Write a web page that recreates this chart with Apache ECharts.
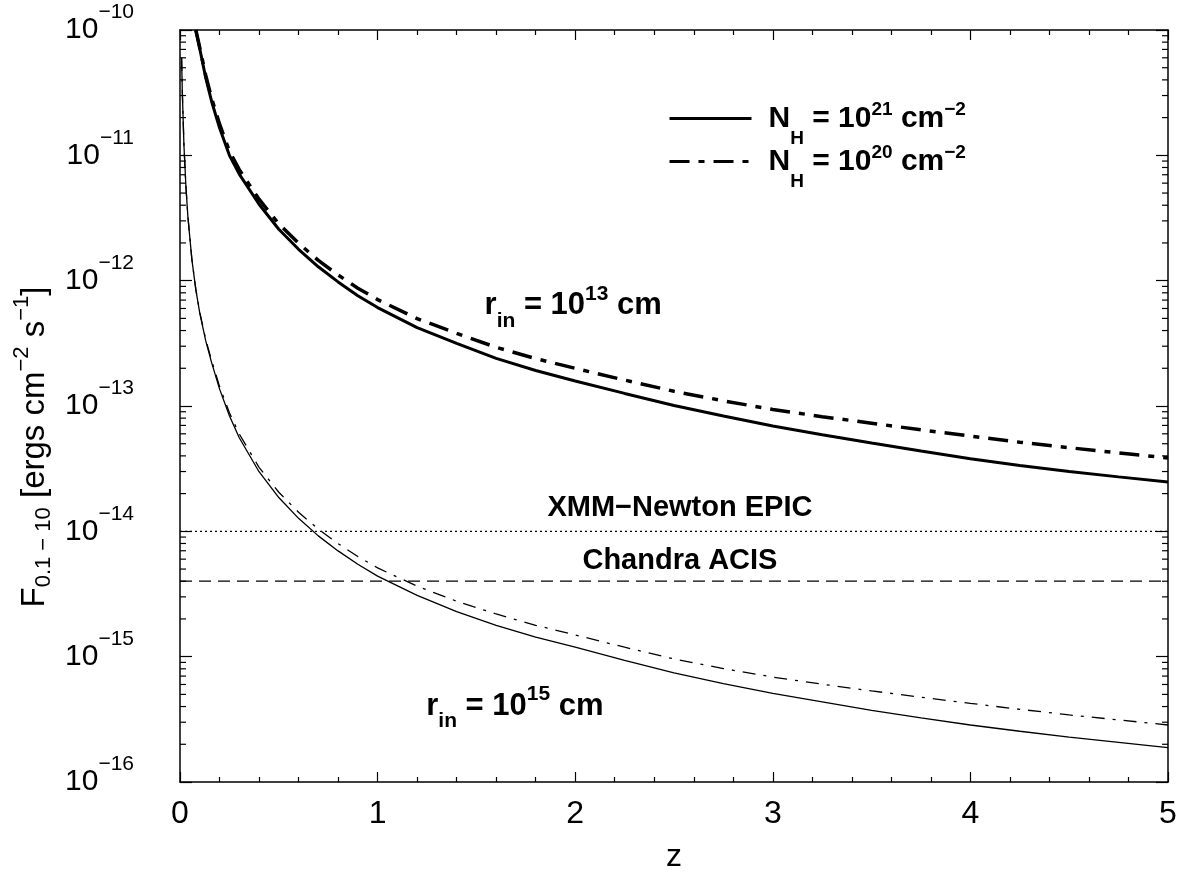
<!DOCTYPE html>
<html lang="en">
<head>
<meta charset="UTF-8">
<title>F(0.1-10 keV) vs z</title>
<script src="https://cdn.jsdelivr.net/npm/echarts@6.0.0/dist/echarts.min.js"></script>
<style>
    html, body { margin: 0; padding: 0; background: #ffffff; }
    #chart { width: 1181px; height: 876px; }
</style>
</head>
<body>
<div id="chart"></div>
<script>
    // ---- data ----
    // r_in = 10^15 cm curves (thin)
    const zLower = [0.008, 0.012, 0.02, 0.03, 0.04, 0.06, 0.08, 0.1, 0.13, 0.16,
        0.2, 0.25, 0.3, 0.4, 0.5, 0.6, 0.7, 0.8, 0.9, 1.0,
        1.2, 1.4, 1.6, 1.8, 2.0, 2.25, 2.5, 2.75, 3.0, 3.25, 3.5, 3.75, 4.0, 4.25, 4.5, 4.75, 5.0];
    const fluxLowNH21 = [6.0e-11, 3.10e-11, 1.20e-11, 5.62e-12, 3.23e-12, 1.48e-12, 8.47e-13, 5.51e-13, 3.32e-13, 2.22e-13,
        1.37e-13, 8.36e-14, 5.58e-14, 2.99e-14, 1.86e-14, 1.27e-14, 9.20e-15, 6.98e-15, 5.46e-15, 4.39e-15,
        3.08e-15, 2.29e-15, 1.78e-15, 1.43e-15, 1.19e-15, 9.33e-16, 7.41e-16, 6.10e-16, 5.09e-16, 4.35e-16,
        3.73e-16, 3.25e-16, 2.85e-16, 2.54e-16, 2.28e-16, 2.07e-16, 1.88e-16];
    const fluxLowNH20 = [6.0e-11, 3.10e-11, 1.20e-11, 5.65e-12, 3.25e-12, 1.49e-12, 8.57e-13, 5.61e-13, 3.41e-13, 2.31e-13,
        1.435e-13, 8.85e-14, 5.98e-14, 3.24e-14, 2.05e-14, 1.42e-14, 1.04e-14, 7.98e-15, 6.30e-15, 5.11e-15,
        3.65e-15, 2.77e-15, 2.19e-15, 1.78e-15, 1.49e-15, 1.19e-15, 9.59e-16, 8.04e-16, 6.87e-16, 6.03e-16,
        5.33e-16, 4.75e-16, 4.24e-16, 3.80e-16, 3.43e-16, 3.13e-16, 2.85e-16];

    // r_in = 10^13 cm curves (thick)
    const zUpper = [0.08, 0.1, 0.13, 0.16, 0.2, 0.25, 0.3, 0.4, 0.5, 0.6, 0.7, 0.8, 0.9, 1.0,
        1.2, 1.4, 1.6, 1.8, 2.0, 2.25, 2.5, 2.75, 3.0, 3.25, 3.5, 3.75, 4.0, 4.25, 4.5, 4.75, 5.0];
    const fluxUpNH21 = [1.0e-10, 7.08e-11, 4.17e-11, 2.69e-11, 1.66e-11, 1.0e-11, 7.08e-12, 4.07e-12, 2.57e-12, 1.78e-12,
        1.29e-12, 9.77e-13, 7.59e-13, 6.10e-13, 4.22e-13, 3.16e-13, 2.40e-13, 1.92e-13, 1.585e-13, 1.26e-13,
        1.01e-13, 8.32e-14, 6.92e-14, 5.89e-14, 5.07e-14, 4.37e-14, 3.80e-14, 3.35e-14, 3.0e-14, 2.72e-14, 2.48e-14];
    const fluxUpNH20 = [1.0e-10, 7.24e-11, 4.37e-11, 2.85e-11, 1.78e-11, 1.08e-11, 7.69e-12, 4.47e-12, 2.84e-12, 1.99e-12,
        1.45e-12, 1.11e-12, 8.71e-13, 7.06e-13, 4.98e-13, 3.80e-13, 2.94e-13, 2.39e-13, 2.0e-13, 1.61e-13,
        1.31e-13, 1.10e-13, 9.38e-14, 8.22e-14, 7.29e-14, 6.46e-14, 5.75e-14, 5.14e-14, 4.65e-14, 4.22e-14, 3.85e-14];

    // detector sensitivity limits
    const limitNames = ['XMM−Newton EPIC', 'Chandra ACIS'];
    const limitFlux = [1e-14, 4e-15];

    // text annotations (anchored in data units)
    const noteText = ['XMM−Newton EPIC', 'Chandra ACIS',
        '{b|r}{sub|in}{b| = 10}{sup|13}{b| cm}', '{b|r}{sub|in}{b| = 10}{sup|15}{b| cm}'];
    const noteZ = [2.53, 2.53, 1.99, 1.695];
    const noteF = [1.53e-14, 5.8e-15, 6.3e-13, 4.0e-16];

    const legendText = {
        'NH21': '{g|}{b|N}{sub|H}{b| = 10}{sup|21}{b| cm}{sup|−2}',
        'NH20': '{g|}{b|N}{sub|H}{b| = 10}{sup|20}{b| cm}{sup|−2}'
    };

    const xTicks = [0, 5, 1];         // min, max, interval
    const yDecades = [-16, -10];      // log10 range
    const minorMult = [2, 3, 4, 5, 6, 7, 8, 9];

    const FONT = '"Liberation Sans", Arial, Helvetica, sans-serif';

    function pairs(xs, ys) {
        return xs.map(function (x, i) { return [x, ys[i]]; });
    }

    // log minor ticks at 2..9 x 10^n (drawn on both vertical frame edges)
    let minorTickVals = [];
    for (let d = yDecades[0]; d < yDecades[1]; d++) {
        for (let m of minorMult) minorTickVals.push([xTicks[0], m * Math.pow(10, d)]);
    }

    const boldRich = function (size, small, sub, sup, gap) {
        return {
            b: {fontFamily: FONT, fontWeight: 'bold', fontSize: size, color: '#000', lineHeight: 30},
            sub: {fontFamily: FONT, fontWeight: 'bold', fontSize: small, color: '#000', lineHeight: 30, padding: [sub, 0, 0, 0]},
            sup: {fontFamily: FONT, fontWeight: 'bold', fontSize: small, color: '#000', lineHeight: 30, padding: [0, 0, sup, 0]},
            g: {width: gap, lineHeight: 30}
        };
    };

    const myChart = echarts.init(document.getElementById('chart'));

    const frameLine = {show: true, onZero: false, lineStyle: {color: '#000', width: 1.5}};
    const tickStyle = {color: '#000', width: 1.2};

    const option = {
        animation: false,
        backgroundColor: '#ffffff',
        grid: {left: 180, right: 13, top: 30, bottom: 94, containLabel: false, outerBoundsMode: 'none'},
        legend: {
            orient: 'vertical',
            left: 663,
            top: 84,
            itemWidth: 82,
            itemHeight: 14,
            itemGap: -16,
            selectedMode: false,
            data: ['NH21', 'NH20'],
            itemStyle: {opacity: 0},
            lineStyle: {width: 3},
            formatter: function (name) { return legendText[name]; },
            textStyle: {
                color: '#000', fontFamily: FONT, fontWeight: 'bold', fontSize: 29, lineHeight: 30,
                rich: boldRich(30, 19, 40, 18, 12)
            }
        },
        xAxis: [{
            type: 'value', position: 'bottom',
            min: xTicks[0], max: xTicks[1], interval: xTicks[2],
            axisLine: frameLine,
            axisTick: {show: true, inside: true, length: 10, lineStyle: tickStyle},
            minorTick: {show: true, splitNumber: 5, length: 5, lineStyle: tickStyle},
            splitLine: {show: false},
            axisLabel: {color: '#000', fontFamily: FONT, fontSize: 32, margin: 16},
            name: 'z', nameLocation: 'middle', nameGap: 59,
            nameTextStyle: {color: '#000', fontFamily: FONT, fontSize: 32}
        }, {
            type: 'value', position: 'top',
            min: xTicks[0], max: xTicks[1], interval: xTicks[2],
            axisLine: frameLine,
            axisTick: {show: true, inside: true, length: 10, lineStyle: tickStyle},
            minorTick: {show: true, splitNumber: 5, length: 5, lineStyle: tickStyle},
            splitLine: {show: false},
            axisLabel: {show: false}
        }],
        yAxis: [{
            type: 'log', logBase: 10, position: 'left',
            min: Math.pow(10, yDecades[0]), max: Math.pow(10, yDecades[1]),
            axisLine: frameLine,
            axisTick: {show: true, inside: true, length: 12, lineStyle: tickStyle},
            splitLine: {show: false},
            axisLabel: {
                margin: 46,
                formatter: function (v) {
                    const e = Math.round(Math.log10(v));
                    return '{b|10}{s|−' + (-e) + '}';
                },
                rich: {
                    b: {fontFamily: FONT, fontSize: 30, color: '#000', lineHeight: 30},
                    s: {fontFamily: FONT, fontSize: 21, color: '#000', lineHeight: 30, padding: [0, 0, 35, 0]}
                }
            }
        }, {
            type: 'log', logBase: 10, position: 'right',
            min: Math.pow(10, yDecades[0]), max: Math.pow(10, yDecades[1]),
            axisLine: frameLine,
            axisTick: {show: true, inside: true, length: 12, lineStyle: tickStyle},
            splitLine: {show: false},
            axisLabel: {show: false}
        }],
        series: [
            {
                name: 'NH21', type: 'line', symbol: 'none', data: pairs(zUpper, fluxUpNH21),
                lineStyle: {color: '#000', width: 3}, itemStyle: {color: '#000'}
            },
            {
                name: 'NH20', type: 'line', symbol: 'none', data: pairs(zUpper, fluxUpNH20),
                lineStyle: {color: '#000', width: 3.5, type: [20, 9, 6, 9]}, itemStyle: {color: '#000'}
            },
            {
                name: 'NH21', type: 'line', symbol: 'none', data: pairs(zLower, fluxLowNH21),
                lineStyle: {color: '#000', width: 1.3}, itemStyle: {color: '#000'}
            },
            {
                name: 'NH20', type: 'line', symbol: 'none', data: pairs(zLower, fluxLowNH20),
                lineStyle: {color: '#000', width: 1.3, type: [13, 8, 3, 8]}, itemStyle: {color: '#000'}
            },
            {
                name: limitNames[0], type: 'line', symbol: 'none',
                data: [[xTicks[0], limitFlux[0]], [xTicks[1], limitFlux[0]]],
                lineStyle: {color: '#000', width: 1.3, type: [2, 3]}
            },
            {
                name: limitNames[1], type: 'line', symbol: 'none',
                data: [[xTicks[0], limitFlux[1]], [xTicks[1], limitFlux[1]]],
                lineStyle: {color: '#000', width: 1.3, type: [12, 7]}
            },
            {
                name: 'notes', type: 'scatter', symbolSize: 0, silent: true,
                itemStyle: {opacity: 1, color: '#000'},
                data: noteZ.map(function (z, i) {
                    return {value: [z, noteF[i]], label: {formatter: noteText[i]}};
                }),
                label: {
                    show: true, position: 'inside', color: '#000', opacity: 1,
                    fontFamily: FONT, fontWeight: 'bold', fontSize: 29,
                    rich: boldRich(31, 21, 30, 24, 0)
                }
            },
            {
                name: 'minorTicks', type: 'custom', silent: true, clip: false,
                data: minorTickVals,
                renderItem: function (params, api) {
                    const v = api.value(1);
                    const l = api.coord([xTicks[0], v]);
                    const r = api.coord([xTicks[1], v]);
                    return {
                        type: 'group',
                        children: [
                            {type: 'line', shape: {x1: l[0], y1: l[1], x2: l[0] + 6, y2: l[1]}, style: {stroke: '#000', lineWidth: 1.2}},
                            {type: 'line', shape: {x1: r[0] - 6, y1: r[1], x2: r[0], y2: r[1]}, style: {stroke: '#000', lineWidth: 1.2}}
                        ]
                    };
                }
            }
        ],
        graphic: [{
            type: 'text',
            x: 35, y: 447,
            rotation: Math.PI / 2,
            style: {
                text: '{m|F}{sub|0.1 − 10}{m| [ergs cm}{sup|−2}{m| s}{sup|−1}{m|]}',
                align: 'center', verticalAlign: 'middle',
                rich: {
                    m: {fontFamily: FONT, fontSize: 33, fill: '#000', lineHeight: 34},
                    sub: {fontFamily: FONT, fontSize: 22, fill: '#000', lineHeight: 34, padding: [18, 0, 0, 0]},
                    sup: {fontFamily: FONT, fontSize: 22, fill: '#000', lineHeight: 34, padding: [0, 0, 26, 0]}
                }
            }
        }]
    };

    myChart.setOption(option);
</script>
</body>
</html>
